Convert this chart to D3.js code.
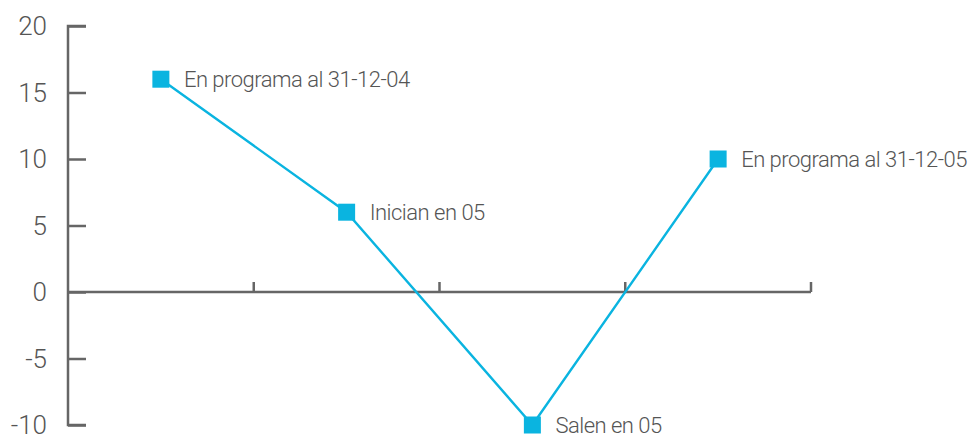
<!DOCTYPE html>
<html>
<head>
<meta charset="utf-8">
<script src="https://cdn.jsdelivr.net/npm/d3@7"></script>
<style>
  body { margin: 0; background: #fff; }
  svg { display: block; }
  text { font-family: Roboto, "Liberation Sans", sans-serif; }
</style>
</head>
<body>
<svg id="chart" width="968" height="435"></svg>
<script>
// etiquetas de cada punto y sus valores
const categories = ["En programa al 31-12-04", "Inician en 05", "Salen en 05", "En programa al 31-12-05"];
const values = [16, 6, -10, 10];
const yTicks = [-10, -5, 0, 5, 10, 15, 20];

const width = 968, height = 435;
const margin = {left: 68, right: 157, top: 26, bottom: 10};
const lineColor = "#0ab4e0";
const axisColor = "#666";

const svg = d3.select("#chart");

const x = d3.scaleBand()
  .domain(categories)
  .range([margin.left, width - margin.right]);

const y = d3.scaleLinear()
  .domain([-10, 20])
  .range([height - margin.bottom, margin.top]);

// eje y con marcas hacia dentro
const yAxis = svg.append("g")
  .attr("transform", `translate(${margin.left},0)`)
  .call(d3.axisRight(y).tickValues(yTicks).tickSize(18).tickFormat(""));
yAxis.select(".domain").attr("d", `M18,${y(20)}H0V${y(-10)}H18`);
yAxis.selectAll("line, path").attr("stroke", axisColor).attr("stroke-width", 2.5);

svg.append("g").selectAll("text")
  .data(yTicks)
  .join("text")
  .attr("x", 47)
  .attr("y", d => y(d))
  .attr("dy", "0.36em")
  .attr("text-anchor", "end")
  .attr("font-size", 26)
  .attr("font-weight", 300)
  .attr("fill", "#555")
  .text(d => d);

// eje x en cero, marcas hacia arriba en los bordes de cada banda
const xEdges = categories.slice(1).map(c => x(c)).concat([x.range()[1]]);
svg.append("line")
  .attr("x1", margin.left).attr("x2", x.range()[1])
  .attr("y1", y(0)).attr("y2", y(0))
  .attr("stroke", axisColor).attr("stroke-width", 2.5);
svg.append("g").selectAll("line")
  .data(xEdges)
  .join("line")
  .attr("x1", d => d).attr("x2", d => d)
  .attr("y1", y(0)).attr("y2", y(0) - 10)
  .attr("stroke", axisColor).attr("stroke-width", 2.5);

const pts = categories.map((c, i) => ({c, v: values[i]}));

svg.append("path")
  .datum(pts)
  .attr("fill", "none")
  .attr("stroke", lineColor)
  .attr("stroke-width", 2.4)
  .attr("d", d3.line().x(d => x(d.c) + x.bandwidth() / 2).y(d => y(d.v)));

svg.append("g").selectAll("rect")
  .data(pts)
  .join("rect")
  .attr("x", d => x(d.c) + x.bandwidth() / 2 - 8.5)
  .attr("y", d => y(d.v) - 8.5)
  .attr("width", 17).attr("height", 17)
  .attr("fill", lineColor);

svg.append("g").selectAll("text")
  .data(pts)
  .join("text")
  .attr("x", d => x(d.c) + x.bandwidth() / 2 + 23)
  .attr("y", d => y(d.v))
  .attr("dy", "0.36em")
  .attr("font-size", 22)
  .attr("font-weight", 300)
  .attr("letter-spacing", -0.5)
  .attr("fill", "#555")
  .text(d => d.c);
</script>
</body>
</html>
